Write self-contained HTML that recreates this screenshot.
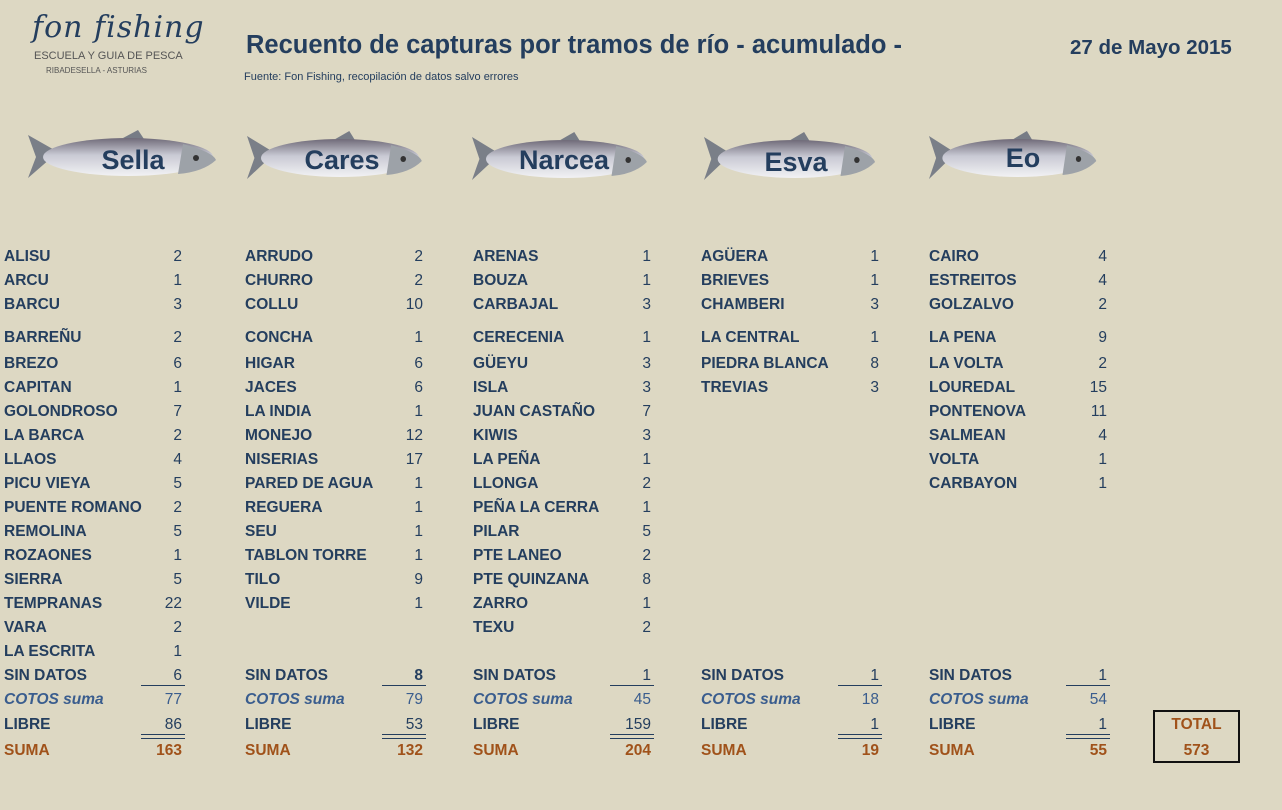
<!DOCTYPE html>
<html><head><meta charset="utf-8">
<style>
body{margin:0;}
#p{position:relative;width:1282px;height:810px;background:#ddd8c3;overflow:hidden;font-family:"Liberation Sans",sans-serif;color:#243e5e;}
.l,.n{position:absolute;font-size:15.5px;line-height:18px;white-space:nowrap;margin-top:2px;}
.l{font-weight:bold;}
.n{text-align:right;width:60px;}
.i{font-style:italic;font-weight:bold;color:#3a5d8e;}
.ic{color:#3a5d8e;}
.s{color:#a0521a;font-weight:bold;}
.u{position:absolute;height:1px;background:#243e5e;width:44px;}
.d{position:absolute;height:3px;border-top:1px solid #243e5e;border-bottom:1px solid #243e5e;width:44px;}
.fish{position:absolute;}
.fl{position:absolute;font-size:27px;font-weight:bold;color:#243e5e;width:200px;text-align:center;}
</style></head><body><div id="p">
<div style="position:absolute;left:32px;top:10px;font-family:'DejaVu Serif',serif;font-style:italic;font-size:30px;color:#243e5e;letter-spacing:1px">fon fishing</div>
<div style="position:absolute;left:34px;top:50px;font-size:11px;color:#555">ESCUELA Y GUIA DE PESCA</div>
<div style="position:absolute;left:46px;top:66px;font-size:8px;color:#555">RIBADESELLA - ASTURIAS</div>
<div style="position:absolute;left:246px;top:31px;font-size:25.5px;font-weight:bold;color:#243e5e">Recuento de capturas por tramos de río - acumulado -</div>
<div style="position:absolute;left:244px;top:71px;font-size:11px;color:#243e5e">Fuente: Fon Fishing, recopilación de datos salvo errores</div>
<div style="position:absolute;left:1070px;top:36px;font-size:20.5px;font-weight:bold;color:#243e5e">27 de Mayo 2015</div>

<svg width="0" height="0" style="position:absolute"><defs>
<linearGradient id="g" x1="0" y1="0" x2="0" y2="1"><stop offset="0" stop-color="#6f6a78"/><stop offset="0.45" stop-color="#c9cad4"/><stop offset="1" stop-color="#f2f2f4"/></linearGradient>
<g id="f"><path d="M0,5 L30,22 L0,48 L8,27 Z" fill="#7a7f88"/><path d="M95,8 L110,0 L118,12 Z" fill="#777c86"/><ellipse cx="100" cy="27" rx="85" ry="19" fill="url(#g)"/><path d="M155,14 Q185,22 188,30 Q175,42 150,44 Z" fill="#9da2a8"/><circle cx="168" cy="28" r="3" fill="#333"/></g>
</defs></svg>
<svg class="fish" style="left:28px;top:130px" width="190" height="52"><use href="#f"/></svg>
<svg class="fish" style="left:247px;top:131px" width="180" height="52"><use href="#f" transform="scale(0.93,1)"/></svg>
<svg class="fish" style="left:472px;top:132px" width="180" height="52"><use href="#f" transform="scale(0.93,1)"/></svg>
<svg class="fish" style="left:704px;top:132px" width="180" height="52"><use href="#f" transform="scale(0.91,1)"/></svg>
<svg class="fish" style="left:929px;top:131px" width="180" height="52"><use href="#f" transform="scale(0.89,1)"/></svg>
<div class="fl" style="left:33px;top:145px">Sella</div>
<div class="fl" style="left:242px;top:145px">Cares</div>
<div class="fl" style="left:464px;top:145px">Narcea</div>
<div class="fl" style="left:696px;top:147px">Esva</div>
<div class="fl" style="left:923px;top:143px">Eo</div>

<!-- Sella -->
<div class="l" style="left:4px;top:246px">ALISU</div><div class="n" style="left:122px;top:246px">2</div>
<div class="l" style="left:4px;top:270px">ARCU</div><div class="n" style="left:122px;top:270px">1</div>
<div class="l" style="left:4px;top:294px">BARCU</div><div class="n" style="left:122px;top:294px">3</div>
<div class="l" style="left:4px;top:327px">BARREÑU</div><div class="n" style="left:122px;top:327px">2</div>
<div class="l" style="left:4px;top:353px">BREZO</div><div class="n" style="left:122px;top:353px">6</div>
<div class="l" style="left:4px;top:377px">CAPITAN</div><div class="n" style="left:122px;top:377px">1</div>
<div class="l" style="left:4px;top:401px">GOLONDROSO</div><div class="n" style="left:122px;top:401px">7</div>
<div class="l" style="left:4px;top:425px">LA BARCA</div><div class="n" style="left:122px;top:425px">2</div>
<div class="l" style="left:4px;top:449px">LLAOS</div><div class="n" style="left:122px;top:449px">4</div>
<div class="l" style="left:4px;top:473px">PICU VIEYA</div><div class="n" style="left:122px;top:473px">5</div>
<div class="l" style="left:4px;top:497px">PUENTE ROMANO</div><div class="n" style="left:122px;top:497px">2</div>
<div class="l" style="left:4px;top:521px">REMOLINA</div><div class="n" style="left:122px;top:521px">5</div>
<div class="l" style="left:4px;top:545px">ROZAONES</div><div class="n" style="left:122px;top:545px">1</div>
<div class="l" style="left:4px;top:569px">SIERRA</div><div class="n" style="left:122px;top:569px">5</div>
<div class="l" style="left:4px;top:593px">TEMPRANAS</div><div class="n" style="left:122px;top:593px">22</div>
<div class="l" style="left:4px;top:617px">VARA</div><div class="n" style="left:122px;top:617px">2</div>
<div class="l" style="left:4px;top:641px">LA ESCRITA</div><div class="n" style="left:122px;top:641px">1</div>
<div class="l" style="left:4px;top:665px">SIN DATOS</div><div class="n" style="left:122px;top:665px">6</div>
<div class="u" style="left:141px;top:685px"></div>
<div class="l i" style="left:4px;top:689px">COTOS suma</div><div class="n ic" style="left:122px;top:689px">77</div>
<div class="l" style="left:4px;top:714px">LIBRE</div><div class="n" style="left:122px;top:714px">86</div>
<div class="d" style="left:141px;top:734px"></div>
<div class="l s" style="left:4px;top:740px">SUMA</div><div class="n s" style="left:122px;top:740px">163</div>

<!-- Cares -->
<div class="l" style="left:245px;top:246px">ARRUDO</div><div class="n" style="left:363px;top:246px">2</div>
<div class="l" style="left:245px;top:270px">CHURRO</div><div class="n" style="left:363px;top:270px">2</div>
<div class="l" style="left:245px;top:294px">COLLU</div><div class="n" style="left:363px;top:294px">10</div>
<div class="l" style="left:245px;top:327px">CONCHA</div><div class="n" style="left:363px;top:327px">1</div>
<div class="l" style="left:245px;top:353px">HIGAR</div><div class="n" style="left:363px;top:353px">6</div>
<div class="l" style="left:245px;top:377px">JACES</div><div class="n" style="left:363px;top:377px">6</div>
<div class="l" style="left:245px;top:401px">LA INDIA</div><div class="n" style="left:363px;top:401px">1</div>
<div class="l" style="left:245px;top:425px">MONEJO</div><div class="n" style="left:363px;top:425px">12</div>
<div class="l" style="left:245px;top:449px">NISERIAS</div><div class="n" style="left:363px;top:449px">17</div>
<div class="l" style="left:245px;top:473px">PARED DE AGUA</div><div class="n" style="left:363px;top:473px">1</div>
<div class="l" style="left:245px;top:497px">REGUERA</div><div class="n" style="left:363px;top:497px">1</div>
<div class="l" style="left:245px;top:521px">SEU</div><div class="n" style="left:363px;top:521px">1</div>
<div class="l" style="left:245px;top:545px">TABLON TORRE</div><div class="n" style="left:363px;top:545px">1</div>
<div class="l" style="left:245px;top:569px">TILO</div><div class="n" style="left:363px;top:569px">9</div>
<div class="l" style="left:245px;top:593px">VILDE</div><div class="n" style="left:363px;top:593px">1</div>
<div class="l" style="left:245px;top:665px">SIN DATOS</div><div class="n" style="left:363px;top:665px;font-weight:bold">8</div>
<div class="u" style="left:382px;top:685px"></div>
<div class="l i" style="left:245px;top:689px">COTOS suma</div><div class="n ic" style="left:363px;top:689px">79</div>
<div class="l" style="left:245px;top:714px">LIBRE</div><div class="n" style="left:363px;top:714px">53</div>
<div class="d" style="left:382px;top:734px"></div>
<div class="l s" style="left:245px;top:740px">SUMA</div><div class="n s" style="left:363px;top:740px">132</div>

<!-- Narcea -->
<div class="l" style="left:473px;top:246px">ARENAS</div><div class="n" style="left:591px;top:246px">1</div>
<div class="l" style="left:473px;top:270px">BOUZA</div><div class="n" style="left:591px;top:270px">1</div>
<div class="l" style="left:473px;top:294px">CARBAJAL</div><div class="n" style="left:591px;top:294px">3</div>
<div class="l" style="left:473px;top:327px">CERECENIA</div><div class="n" style="left:591px;top:327px">1</div>
<div class="l" style="left:473px;top:353px">GÜEYU</div><div class="n" style="left:591px;top:353px">3</div>
<div class="l" style="left:473px;top:377px">ISLA</div><div class="n" style="left:591px;top:377px">3</div>
<div class="l" style="left:473px;top:401px">JUAN CASTAÑO</div><div class="n" style="left:591px;top:401px">7</div>
<div class="l" style="left:473px;top:425px">KIWIS</div><div class="n" style="left:591px;top:425px">3</div>
<div class="l" style="left:473px;top:449px">LA PEÑA</div><div class="n" style="left:591px;top:449px">1</div>
<div class="l" style="left:473px;top:473px">LLONGA</div><div class="n" style="left:591px;top:473px">2</div>
<div class="l" style="left:473px;top:497px">PEÑA LA CERRA</div><div class="n" style="left:591px;top:497px">1</div>
<div class="l" style="left:473px;top:521px">PILAR</div><div class="n" style="left:591px;top:521px">5</div>
<div class="l" style="left:473px;top:545px">PTE LANEO</div><div class="n" style="left:591px;top:545px">2</div>
<div class="l" style="left:473px;top:569px">PTE QUINZANA</div><div class="n" style="left:591px;top:569px">8</div>
<div class="l" style="left:473px;top:593px">ZARRO</div><div class="n" style="left:591px;top:593px">1</div>
<div class="l" style="left:473px;top:617px">TEXU</div><div class="n" style="left:591px;top:617px">2</div>
<div class="l" style="left:473px;top:665px">SIN DATOS</div><div class="n" style="left:591px;top:665px">1</div>
<div class="u" style="left:610px;top:685px"></div>
<div class="l i" style="left:473px;top:689px">COTOS suma</div><div class="n ic" style="left:591px;top:689px">45</div>
<div class="l" style="left:473px;top:714px">LIBRE</div><div class="n" style="left:591px;top:714px">159</div>
<div class="d" style="left:610px;top:734px"></div>
<div class="l s" style="left:473px;top:740px">SUMA</div><div class="n s" style="left:591px;top:740px">204</div>

<!-- Esva -->
<div class="l" style="left:701px;top:246px">AGÜERA</div><div class="n" style="left:819px;top:246px">1</div>
<div class="l" style="left:701px;top:270px">BRIEVES</div><div class="n" style="left:819px;top:270px">1</div>
<div class="l" style="left:701px;top:294px">CHAMBERI</div><div class="n" style="left:819px;top:294px">3</div>
<div class="l" style="left:701px;top:327px">LA CENTRAL</div><div class="n" style="left:819px;top:327px">1</div>
<div class="l" style="left:701px;top:353px">PIEDRA BLANCA</div><div class="n" style="left:819px;top:353px">8</div>
<div class="l" style="left:701px;top:377px">TREVIAS</div><div class="n" style="left:819px;top:377px">3</div>
<div class="l" style="left:701px;top:665px">SIN DATOS</div><div class="n" style="left:819px;top:665px">1</div>
<div class="u" style="left:838px;top:685px"></div>
<div class="l i" style="left:701px;top:689px">COTOS suma</div><div class="n ic" style="left:819px;top:689px">18</div>
<div class="l" style="left:701px;top:714px">LIBRE</div><div class="n" style="left:819px;top:714px">1</div>
<div class="d" style="left:838px;top:734px"></div>
<div class="l s" style="left:701px;top:740px">SUMA</div><div class="n s" style="left:819px;top:740px">19</div>

<!-- Eo -->
<div class="l" style="left:929px;top:246px">CAIRO</div><div class="n" style="left:1047px;top:246px">4</div>
<div class="l" style="left:929px;top:270px">ESTREITOS</div><div class="n" style="left:1047px;top:270px">4</div>
<div class="l" style="left:929px;top:294px">GOLZALVO</div><div class="n" style="left:1047px;top:294px">2</div>
<div class="l" style="left:929px;top:327px">LA PENA</div><div class="n" style="left:1047px;top:327px">9</div>
<div class="l" style="left:929px;top:353px">LA VOLTA</div><div class="n" style="left:1047px;top:353px">2</div>
<div class="l" style="left:929px;top:377px">LOUREDAL</div><div class="n" style="left:1047px;top:377px">15</div>
<div class="l" style="left:929px;top:401px">PONTENOVA</div><div class="n" style="left:1047px;top:401px">11</div>
<div class="l" style="left:929px;top:425px">SALMEAN</div><div class="n" style="left:1047px;top:425px">4</div>
<div class="l" style="left:929px;top:449px">VOLTA</div><div class="n" style="left:1047px;top:449px">1</div>
<div class="l" style="left:929px;top:473px">CARBAYON</div><div class="n" style="left:1047px;top:473px">1</div>
<div class="l" style="left:929px;top:665px">SIN DATOS</div><div class="n" style="left:1047px;top:665px">1</div>
<div class="u" style="left:1066px;top:685px"></div>
<div class="l i" style="left:929px;top:689px">COTOS suma</div><div class="n ic" style="left:1047px;top:689px">54</div>
<div class="l" style="left:929px;top:714px">LIBRE</div><div class="n" style="left:1047px;top:714px">1</div>
<div class="d" style="left:1066px;top:734px"></div>
<div class="l s" style="left:929px;top:740px">SUMA</div><div class="n s" style="left:1047px;top:740px">55</div>

<div style="position:absolute;left:1153px;top:710px;width:83px;height:49px;border:2px solid #111"></div>
<div class="l s" style="left:1155px;top:714px;width:83px;text-align:center">TOTAL</div>
<div class="l s" style="left:1155px;top:740px;width:83px;text-align:center">573</div>
</div></body></html>
